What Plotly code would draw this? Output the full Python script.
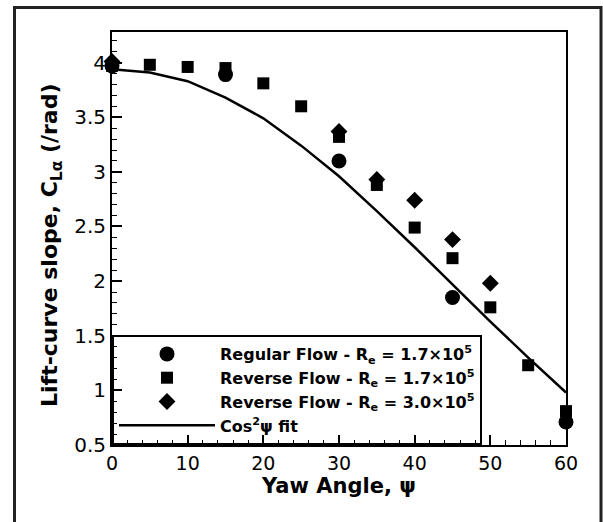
import plotly.graph_objects as go

# ---- data ----
regular_x = [0, 15, 30, 45, 60]
regular_y = [3.97, 3.89, 3.10, 1.85, 0.71]

rev17_x = [0, 5, 10, 15, 20, 25, 30, 35, 40, 45, 50, 55, 60]
rev17_y = [3.97, 3.98, 3.96, 3.95, 3.81, 3.60, 3.32, 2.88, 2.49, 2.21, 1.76, 1.23, 0.81]

rev30_x = [0, 30, 35, 40, 45, 50]
rev30_y = [4.01, 3.37, 2.93, 2.74, 2.38, 1.98]

fit_x = [0, 5, 10, 15, 20, 25, 30, 35, 40, 45, 50, 55, 60]
fit_y = [3.94, 3.91, 3.83, 3.68, 3.49, 3.24, 2.96, 2.64, 2.31, 1.97, 1.63, 1.30, 0.98]

x_ticks = [0, 10, 20, 30, 40, 50, 60]
y_ticks = [0.5, 1, 1.5, 2, 2.5, 3, 3.5, 4]
y_ticktext = ["0.5", "1", "1.5", "2", "2.5", "3", "3.5", "4"]

FONT = "DejaVu Sans, Liberation Sans, Arial, sans-serif"

W, H = 603, 522
L, R, T, B = 112, 37, 32, 77
pw, ph = W - L - R, H - T - B


def px2paper_x(px):
    return (px - L) / pw


def px2paper_y(py):
    return (H - B - py) / ph


fig = go.Figure()

fig.add_trace(go.Scatter(
    x=regular_x, y=regular_y, mode="markers", cliponaxis=False,
    name="Regular Flow - R<sub>e</sub> = 1.7×10<sup>5</sup>",
    marker=dict(symbol="circle", size=15, color="black"),
))
fig.add_trace(go.Scatter(
    x=rev17_x, y=rev17_y, mode="markers", cliponaxis=False,
    name="Reverse Flow - R<sub>e</sub> = 1.7×10<sup>5</sup>",
    marker=dict(symbol="square", size=12, color="black"),
))
fig.add_trace(go.Scatter(
    x=rev30_x, y=rev30_y, mode="markers", cliponaxis=False,
    name="Reverse Flow - R<sub>e</sub> = 3.0×10<sup>5</sup>",
    marker=dict(symbol="diamond", size=13, color="black"),
))
fig.add_trace(go.Scatter(
    x=fit_x, y=fit_y, mode="lines",
    name="Cos<sup>2</sup>ψ fit",
    line=dict(color="black", width=2.5),
))

# outer frame (bottom edge lies outside the picture)
fig.add_shape(type="rect", xref="paper", yref="paper",
              x0=px2paper_x(14.5), x1=px2paper_x(601),
              y0=px2paper_y(540), y1=px2paper_y(7.5),
              line=dict(color="#222222", width=3), layer="below")

# y-axis title (placed as in the reference, slightly below centre)
fig.add_annotation(
    text="<b>Lift-curve slope, C<sub>Lα</sub> (/rad)</b>",
    xref="paper", yref="paper", x=px2paper_x(51), y=px2paper_y(246),
    xanchor="center", yanchor="middle", textangle=-90, showarrow=False,
    font=dict(family=FONT, size=22, color="black"),
)

fig.update_layout(
    width=W, height=H,
    margin=dict(l=L, r=R, t=T, b=B),
    paper_bgcolor="white", plot_bgcolor="white",
    font=dict(family=FONT, color="black", size=18),
    showlegend=True,
    legend=dict(
        x=0, y=0, xanchor="left", yanchor="bottom",
        bgcolor="rgba(0,0,0,0)", bordercolor="black", borderwidth=2,
        font=dict(family=FONT, size=16, color="black", weight="bold"),
        itemwidth=96, tracegroupgap=0,
    ),
    xaxis=dict(
        range=[0, 60], tickvals=x_ticks, ticks="inside", ticklen=10, tickwidth=2,
        tickcolor="black", showline=True, linecolor="black", linewidth=2, mirror=True,
        showgrid=False, zeroline=False,
        minor=dict(dtick=2, ticks="inside", ticklen=5, tickwidth=1, tickcolor="black", showgrid=False),
        tickfont=dict(family=FONT, size=19),
        title=dict(text="<b>Yaw Angle, ψ</b>", font=dict(family=FONT, size=21), standoff=6),
    ),
    yaxis=dict(
        range=[0.5, 4.28], tickvals=y_ticks, ticktext=y_ticktext,
        ticks="inside", ticklen=10, tickwidth=2,
        tickcolor="black", showline=True, linecolor="black", linewidth=2, mirror=True,
        showgrid=False, zeroline=False,
        minor=dict(dtick=0.1, tick0=0.5, ticks="inside", ticklen=5, tickwidth=1, tickcolor="black", showgrid=False),
        tickfont=dict(family=FONT, size=20),
    ),
)

fig.write_html("out.html")
